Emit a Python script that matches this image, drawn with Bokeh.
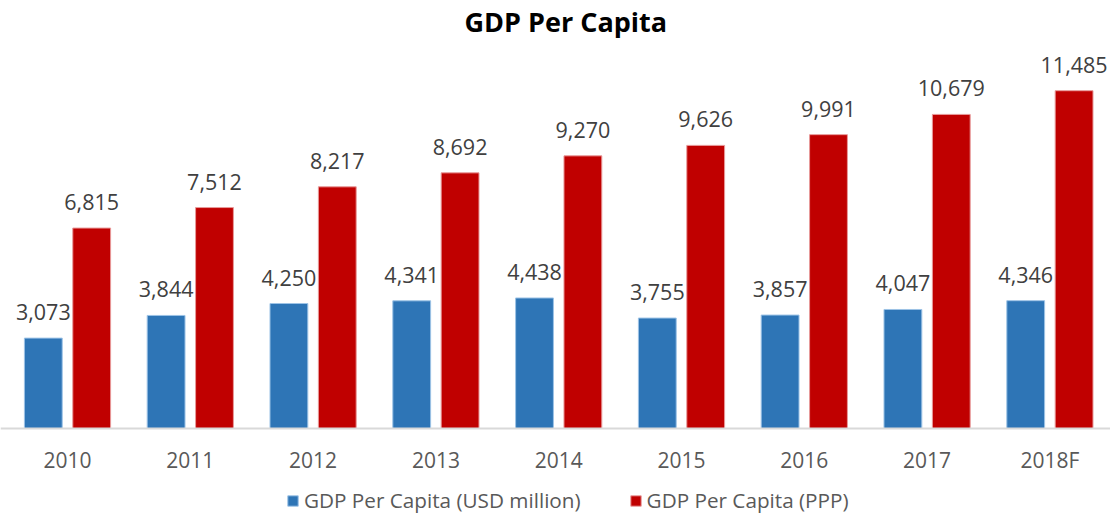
from bokeh.plotting import figure
from bokeh.models import Range1d, ColumnDataSource, Span, Legend, LegendItem
from bokeh.core.properties import value
from bokeh.embed import file_html
from bokeh.resources import INLINE

categories = ["2010", "2011", "2012", "2013", "2014", "2015", "2016", "2017", "2018F"]
usd = [3073, 3844, 4250, 4341, 4438, 3755, 3857, 4047, 4346]
ppp = [6815, 7512, 8217, 8692, 9270, 9626, 9991, 10679, 11485]
series_names = ["GDP Per Capita (USD million)", "GDP Per Capita (PPP)"]

W, H = 1110, 515
CAT_PX = 122.8
K = 34.0          # data units per pixel
TOP = 39          # frame top (below the title)
BASE = 428        # baseline y in the picture
X0 = -67.0 / CAT_PX + 0.5

FONT = "Open Sans"

p = figure(width=W, height=H, output_backend="svg", toolbar_location=None,
           x_range=Range1d(X0, X0 + W / CAT_PX),
           y_range=Range1d(-(H - BASE) * K, (BASE - TOP) * K),
           min_border_left=0, min_border_right=0, min_border_top=0, min_border_bottom=0)
p.title.text = "GDP Per Capita"
p.title.align = "left"
p.title.text_font = FONT
p.title.text_font_size = "27px"
p.title.text_font_style = "bold"
p.title.text_color = "#000000"
p.title.offset = 464
p.title.standoff = 0
p.axis.visible = False
p.grid.visible = False
p.outline_line_color = None
p.background_fill_color = "white"
p.border_fill_color = "white"

xs = [i + 0.5 for i in range(len(categories))]
off = 0.197
bw = 0.308
src = ColumnDataSource(dict(
    xb=[x - off for x in xs], xr=[x + off for x in xs],
    usd=usd, ppp=ppp,
    usd_lbl=[f"{v:,}" for v in usd], ppp_lbl=[f"{v:,}" for v in ppp],
    xc=xs, cat=categories, zero=[0] * len(xs),
))

rb = p.vbar(x="xb", top="usd", width=bw, source=src, fill_color="#2E75B6",
            line_color="#9DC3E6", line_width=1)
rr = p.vbar(x="xr", top="ppp", width=bw, source=src, fill_color="#C00000",
            line_color="#E89A9A", line_width=1)

p.add_layout(Span(location=0, dimension="width", line_color="#D9D9D9", line_width=2))

p.text(x="xb", y="usd", text="usd_lbl", source=src, text_font=value(FONT),
       text_font_size="21.5px", text_color="#404040", text_align="center",
       text_baseline="alphabetic", y_offset=-26)
p.text(x="xr", y="ppp", text="ppp_lbl", source=src, text_font=value(FONT),
       text_font_size="21.5px", text_color="#404040", text_align="center",
       text_baseline="alphabetic", y_offset=-26)
p.text(x="xc", y="zero", text="cat", source=src, text_font=value(FONT),
       text_font_size="21px", text_color="#595959", text_align="center",
       text_baseline="alphabetic", y_offset=31)

legend = Legend(items=[LegendItem(label=series_names[0], renderers=[rb]),
                       LegendItem(label=series_names[1], renderers=[rr])],
                orientation="horizontal", location=(286, 1),
                glyph_width=13, glyph_height=13, label_standoff=5, spacing=48,
                padding=0, margin=0, border_line_color=None,
                background_fill_alpha=0, label_text_font=FONT,
                label_text_font_size="20.7px", label_text_color="#595959",
                label_height=13)
p.add_layout(legend)

open("out.html", "w").write(file_html(p, INLINE))
